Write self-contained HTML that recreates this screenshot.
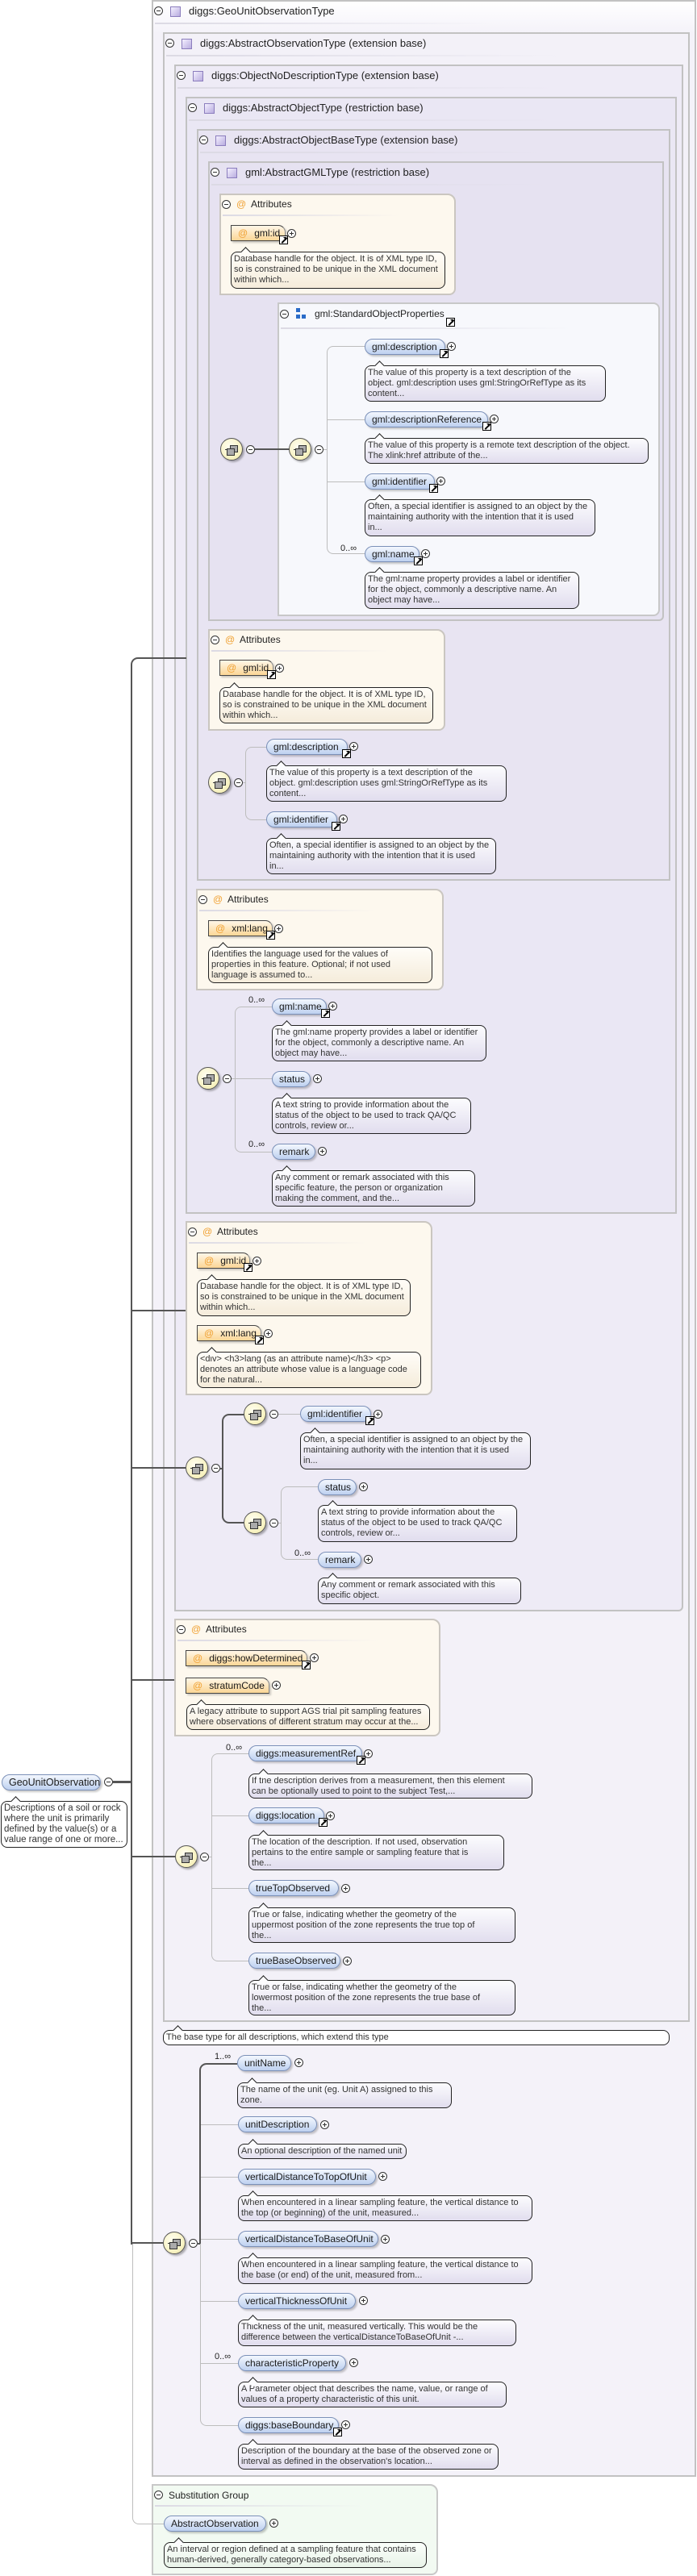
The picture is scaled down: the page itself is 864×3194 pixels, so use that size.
<!DOCTYPE html>
<html><head><meta charset="utf-8">
<style>
body{margin:0;width:864px;height:3194px;position:relative;background:#fff;font-family:"Liberation Sans",sans-serif;overflow:hidden;color:#222}
div,span{position:absolute;box-sizing:border-box}
.bx{border:2px solid #c2c2c2}
.t{font-size:13px;white-space:nowrap;line-height:16px}
.mi,.pl{width:11px;height:11px;border:1px solid #333;border-radius:50%;background:#fff}
.mi::after,.pl::after{content:'';position:absolute;left:2px;top:4px;width:5px;height:1px;background:#333}
.pl::before{content:'';position:absolute;left:4px;top:2px;width:1px;height:5px;background:#333}
.ic{width:13px;height:13px;border:1px solid #8b7dbd;background:linear-gradient(135deg,#f4f0ff,#b9acdf)}
.hl{height:2px;background:linear-gradient(90deg,#dcdae4,rgba(220,218,228,0))}
.at{font-size:12px;color:#f0a030;white-space:nowrap;line-height:14px}
.ab{border:2px solid #cac6c0;background:#fdf8ee;border-radius:0 10px 8px 0}
.p{height:20px;border:1px solid #7b90b8;border-radius:10px;background:linear-gradient(#f3f7fe,#bed1f0);box-shadow:2px 2px 2px rgba(0,0,0,.22);font-size:12px;line-height:18px;padding-left:8px;white-space:nowrap;color:#1a1a1a}
.a{height:20px;border:1px solid #444;border-right-color:#888;border-radius:0 9px 0 0;background:linear-gradient(#fff7e8,#fbd696);box-shadow:2px 2px 2px rgba(0,0,0,.2);font-size:12px;line-height:18px;padding-left:8px;white-space:nowrap;color:#1a1a1a}
.a b{font-weight:normal;color:#f0a030;margin-right:8px}
.n{border:1px solid #222;border-radius:8px;background:linear-gradient(#fcfcfe,#e1ddee);font-size:11px;line-height:13px;padding:2px 3px;white-space:nowrap;color:#333}
.n::before{content:'';position:absolute;left:13px;top:-5px;width:8px;height:8px;transform:rotate(45deg);border-left:1px solid #222;border-top:1px solid #222;background:#fcfcfe}
.c{background:linear-gradient(#fffdf8,#f5ecdb)}
.c::before{background:#fffdf8}
.w{background:#fff}
.g{background:linear-gradient(#fbfffb,#e8f3e8)}
.lk{width:11px;height:11px;border:1px solid #000;background:#fff;overflow:hidden}
.lk::after{content:'';position:absolute;left:1px;top:4px;width:9px;height:2px;background:#000;transform:rotate(-45deg)}
.lk::before{content:'';position:absolute;right:1px;top:1px;width:0;height:0;border-top:4px solid #000;border-left:4px solid transparent}
.s{width:28px;height:28px;border-radius:50%;border:1px solid #555;background:radial-gradient(circle at 40% 35%,#fffef0,#f3eba8);box-shadow:2px 2px 2px rgba(0,0,0,.3)}
.s i{position:absolute;width:8px;height:7px;border:1px solid #333;background:#aaa}
.s i.a1{left:11px;top:8px}.s i.a2{left:7px;top:12px}
.s i.l{width:16px;height:1px;border:0;background:#333;left:5px;top:13px}
.dk{background:#555}
.lt{background:#bdbdbd}
.q{font-size:11px;white-space:nowrap;line-height:12px}
</style></head><body>

<div class="bx" style="left:188px;top:0;width:675px;height:3071px;background:linear-gradient(#fff,#f4f2f9 40px)"></div>
<div class="bx" style="left:202px;top:40px;width:653px;height:2467px;background:#f3f1f8"></div>
<div class="bx" style="left:216px;top:80px;width:631px;height:1918px;background:#eeebf6;border-radius:0 0 6px 0"></div>
<div class="bx" style="left:230px;top:120px;width:609px;height:1385px;background:#eae7f4"></div>
<div class="bx" style="left:244px;top:160px;width:587px;height:932px;background:#e8e4f2"></div>
<div class="bx" style="left:258px;top:200px;width:565px;height:570px;background:#e6e2f1;border-radius:0 0 6px 0"></div>

<div class="mi" style="left:191px;top:8px"></div><div class="ic" style="left:211px;top:8px"></div><div class="t" style="left:234px;top:6px">diggs:GeoUnitObservationType</div><div class="hl" style="left:192px;top:28px;width:420px"></div>
<div class="mi" style="left:205px;top:48px"></div><div class="ic" style="left:225px;top:48px"></div><div class="t" style="left:248px;top:46px">diggs:AbstractObservationType (extension base)</div><div class="hl" style="left:206px;top:68px;width:490px"></div>
<div class="mi" style="left:219px;top:88px"></div><div class="ic" style="left:239px;top:88px"></div><div class="t" style="left:262px;top:86px">diggs:ObjectNoDescriptionType (extension base)</div><div class="hl" style="left:220px;top:108px;width:470px"></div>
<div class="mi" style="left:233px;top:128px"></div><div class="ic" style="left:253px;top:128px"></div><div class="t" style="left:276px;top:126px">diggs:AbstractObjectType (restriction base)</div><div class="hl" style="left:234px;top:148px;width:455px"></div>
<div class="mi" style="left:247px;top:168px"></div><div class="ic" style="left:267px;top:168px"></div><div class="t" style="left:290px;top:166px">diggs:AbstractObjectBaseType (extension base)</div><div class="hl" style="left:248px;top:188px;width:435px"></div>
<div class="mi" style="left:261px;top:208px"></div><div class="ic" style="left:281px;top:208px"></div><div class="t" style="left:304px;top:206px">gml:AbstractGMLType (restriction base)</div><div class="hl" style="left:262px;top:228px;width:420px"></div>

<div class="ab" style="left:272px;top:240px;width:293px;height:126px"></div>
<div class="mi" style="left:275px;top:248px"></div><div class="at" style="left:293px;top:246px">@</div><div class="t" style="left:311px;top:245px;font-size:12px">Attributes</div><div class="hl" style="left:276px;top:266px;width:220px"></div>
<div class="a" style="left:286px;top:279px;width:68px"><b>@</b>gml:id</div><div class="lk" style="left:346px;top:292px"></div><div class="pl" style="left:356px;top:284px"></div>
<div class="n c" style="left:286px;top:312px;width:266px;height:46px">Database handle for the object. It is of XML type ID,<br>so is constrained to be unique in the XML document<br>within which...</div>

<div style="left:344px;top:375px;width:474px;height:389px;border:2px solid #c8c8c8;border-radius:0 8px 8px 0;background:#f7f8fc"></div>
<div class="mi" style="left:347px;top:384px"></div>
<div style="left:367px;top:382px;width:5px;height:5px;background:#2a6bc8"></div><div style="left:367px;top:390px;width:5px;height:5px;background:#2a6bc8"></div><div style="left:374px;top:390px;width:5px;height:5px;background:#2a6bc8"></div>
<div class="t" style="left:390px;top:381px;font-size:12px">gml:StandardObjectProperties</div><div class="lk" style="left:553px;top:394px"></div>
<div class="hl" style="left:348px;top:406px;width:360px"></div>

<div class="s" style="left:273px;top:543px"><i class="l"></i><i class="a1"></i><i class="a2"></i></div><div class="mi" style="left:305px;top:552px"></div>
<div class="dk" style="left:316px;top:556px;width:43px;height:2px"></div>
<div class="s" style="left:358px;top:543px"><i class="l"></i><i class="a1"></i><i class="a2"></i></div><div class="mi" style="left:390px;top:552px"></div>
<div style="left:405px;top:429px;width:47px;height:258px;border:1px solid #bdbdbd;border-right:0;border-radius:8px 0 0 8px"></div>
<div class="lt" style="left:401px;top:557px;width:4px;height:1px"></div>
<div class="lt" style="left:405px;top:520px;width:47px;height:1px"></div>
<div class="lt" style="left:405px;top:597px;width:47px;height:1px"></div>

<div class="p" style="left:452px;top:420px;width:100px">gml:description</div><div class="lk" style="left:545px;top:433px"></div><div class="pl" style="left:554px;top:424px"></div>
<div class="n" style="left:452px;top:453px;width:299px;height:45px">The value of this property is a text description of the<br>object. gml:description uses gml:StringOrRefType as its<br>content...</div>
<div class="p" style="left:452px;top:510px;width:153px">gml:descriptionReference</div><div class="lk" style="left:598px;top:523px"></div><div class="pl" style="left:607px;top:514px"></div>
<div class="n" style="left:452px;top:543px;width:352px;height:32px">The value of this property is a remote text description of the object.<br>The xlink:href attribute of the...</div>
<div class="p" style="left:452px;top:587px;width:87px">gml:identifier</div><div class="lk" style="left:532px;top:600px"></div><div class="pl" style="left:541px;top:591px"></div>
<div class="n" style="left:452px;top:619px;width:286px;height:46px">Often, a special identifier is assigned to an object by the<br>maintaining authority with the intention that it is used<br>in...</div>
<div class="q" style="left:422px;top:674px">0..∞</div>
<div class="p" style="left:452px;top:677px;width:68px">gml:name</div><div class="lk" style="left:513px;top:690px"></div><div class="pl" style="left:522px;top:681px"></div>
<div class="n" style="left:452px;top:709px;width:266px;height:46px">The gml:name property provides a label or identifier<br>for the object, commonly a descriptive name. An<br>object may have...</div>

<div class="ab" style="left:258px;top:780px;width:294px;height:126px"></div>
<div class="mi" style="left:261px;top:788px"></div><div class="at" style="left:279px;top:786px">@</div><div class="t" style="left:297px;top:785px;font-size:12px">Attributes</div><div class="hl" style="left:262px;top:806px;width:220px"></div>
<div class="a" style="left:272px;top:818px;width:67px"><b>@</b>gml:id</div><div class="lk" style="left:331px;top:831px"></div><div class="pl" style="left:341px;top:823px"></div>
<div class="n c" style="left:272px;top:852px;width:265px;height:45px">Database handle for the object. It is of XML type ID,<br>so is constrained to be unique in the XML document<br>within which...</div>

<div class="s" style="left:258px;top:956px"><i class="l"></i><i class="a1"></i><i class="a2"></i></div><div class="mi" style="left:290px;top:965px"></div>
<div style="left:304px;top:926px;width:26px;height:91px;border:1px solid #bdbdbd;border-right:0;border-radius:8px 0 0 8px"></div>
<div class="lt" style="left:301px;top:970px;width:3px;height:1px"></div>
<div class="p" style="left:330px;top:916px;width:101px">gml:description</div><div class="lk" style="left:424px;top:929px"></div><div class="pl" style="left:433px;top:920px"></div>
<div class="n" style="left:330px;top:949px;width:298px;height:45px">The value of this property is a text description of the<br>object. gml:description uses gml:StringOrRefType as its<br>content...</div>
<div class="p" style="left:330px;top:1006px;width:88px">gml:identifier</div><div class="lk" style="left:411px;top:1019px"></div><div class="pl" style="left:420px;top:1010px"></div>
<div class="n" style="left:330px;top:1039px;width:285px;height:45px">Often, a special identifier is assigned to an object by the<br>maintaining authority with the intention that it is used<br>in...</div>

<div class="ab" style="left:243px;top:1102px;width:307px;height:126px"></div>
<div class="mi" style="left:246px;top:1110px"></div><div class="at" style="left:264px;top:1108px">@</div><div class="t" style="left:282px;top:1107px;font-size:12px">Attributes</div><div class="hl" style="left:247px;top:1128px;width:220px"></div>
<div class="a" style="left:258px;top:1141px;width:80px"><b>@</b>xml:lang</div><div class="lk" style="left:330px;top:1154px"></div><div class="pl" style="left:340px;top:1146px"></div>
<div class="n c" style="left:258px;top:1174px;width:278px;height:45px">Identifies the language used for the values of<br>properties in this feature. Optional; if not used<br>language is assumed to...</div>

<div class="s" style="left:244px;top:1323px"><i class="l"></i><i class="a1"></i><i class="a2"></i></div><div class="mi" style="left:276px;top:1332px"></div>
<div style="left:291px;top:1248px;width:46px;height:181px;border:1px solid #bdbdbd;border-right:0;border-radius:8px 0 0 8px"></div>
<div class="lt" style="left:287px;top:1337px;width:50px;height:1px"></div>
<div class="q" style="left:308px;top:1234px">0..∞</div>
<div class="p" style="left:337px;top:1238px;width:68px">gml:name</div><div class="lk" style="left:398px;top:1251px"></div><div class="pl" style="left:407px;top:1242px"></div>
<div class="n" style="left:337px;top:1271px;width:266px;height:45px">The gml:name property provides a label or identifier<br>for the object, commonly a descriptive name. An<br>object may have...</div>
<div class="p" style="left:337px;top:1328px;width:48px">status</div><div class="pl" style="left:388px;top:1332px"></div>
<div class="n" style="left:337px;top:1361px;width:247px;height:45px">A text string to provide information about the<br>status of the object to be used to track QA/QC<br>controls, review or...</div>
<div class="q" style="left:308px;top:1413px">0..∞</div>
<div class="p" style="left:337px;top:1418px;width:54px">remark</div><div class="pl" style="left:394px;top:1422px"></div>
<div class="n" style="left:337px;top:1451px;width:252px;height:45px">Any comment or remark associated with this<br>specific feature, the person or organization<br>making the comment, and the...</div>

<div class="ab" style="left:230px;top:1514px;width:306px;height:216px"></div>
<div class="mi" style="left:233px;top:1522px"></div><div class="at" style="left:251px;top:1520px">@</div><div class="t" style="left:269px;top:1519px;font-size:12px">Attributes</div><div class="hl" style="left:234px;top:1540px;width:220px"></div>
<div class="a" style="left:244px;top:1553px;width:66px"><b>@</b>gml:id</div><div class="lk" style="left:302px;top:1566px"></div><div class="pl" style="left:313px;top:1558px"></div>
<div class="n c" style="left:244px;top:1586px;width:265px;height:46px">Database handle for the object. It is of XML type ID,<br>so is constrained to be unique in the XML document<br>within which...</div>
<div class="a" style="left:244px;top:1643px;width:80px"><b>@</b>xml:lang</div><div class="lk" style="left:316px;top:1656px"></div><div class="pl" style="left:327px;top:1648px"></div>
<div class="n c" style="left:244px;top:1676px;width:278px;height:45px">&lt;div&gt; &lt;h3&gt;lang (as an attribute name)&lt;/h3&gt; &lt;p&gt;<br>denotes an attribute whose value is a language code<br>for the natural...</div>

<div class="s" style="left:230px;top:1806px"><i class="l"></i><i class="a1"></i><i class="a2"></i></div><div class="mi" style="left:262px;top:1815px"></div>
<div style="left:275px;top:1753px;width:28px;height:136px;border:2px solid #555;border-right:0;border-radius:9px 0 0 9px"></div>
<div class="dk" style="left:272px;top:1820px;width:4px;height:2px"></div>
<div class="s" style="left:302px;top:1739px"><i class="l"></i><i class="a1"></i><i class="a2"></i></div><div class="mi" style="left:334px;top:1748px"></div>
<div class="lt" style="left:345px;top:1753px;width:27px;height:1px"></div>
<div class="s" style="left:302px;top:1874px"><i class="l"></i><i class="a1"></i><i class="a2"></i></div><div class="mi" style="left:334px;top:1883px"></div>
<div style="left:348px;top:1843px;width:46px;height:91px;border:1px solid #bdbdbd;border-right:0;border-radius:8px 0 0 8px"></div>
<div class="lt" style="left:345px;top:1888px;width:3px;height:1px"></div>
<div class="p" style="left:372px;top:1743px;width:88px">gml:identifier</div><div class="lk" style="left:453px;top:1756px"></div><div class="pl" style="left:463px;top:1748px"></div>
<div class="n" style="left:372px;top:1776px;width:286px;height:46px">Often, a special identifier is assigned to an object by the<br>maintaining authority with the intention that it is used<br>in...</div>
<div class="p" style="left:394px;top:1834px;width:48px">status</div><div class="pl" style="left:445px;top:1838px"></div>
<div class="n" style="left:394px;top:1866px;width:247px;height:46px">A text string to provide information about the<br>status of the object to be used to track QA/QC<br>controls, review or...</div>
<div class="q" style="left:365px;top:1920px">0..∞</div>
<div class="p" style="left:394px;top:1924px;width:54px">remark</div><div class="pl" style="left:451px;top:1928px"></div>
<div class="n" style="left:394px;top:1956px;width:252px;height:33px">Any comment or remark associated with this<br>specific object.</div>

<div class="ab" style="left:216px;top:2007px;width:330px;height:146px"></div>
<div class="mi" style="left:219px;top:2015px"></div><div class="at" style="left:237px;top:2013px">@</div><div class="t" style="left:255px;top:2012px;font-size:12px">Attributes</div><div class="hl" style="left:220px;top:2033px;width:250px"></div>
<div class="a" style="left:230px;top:2046px;width:151px"><b>@</b>diggs:howDetermined</div><div class="lk" style="left:374px;top:2059px"></div><div class="pl" style="left:384px;top:2050px"></div>
<div class="a" style="left:230px;top:2080px;width:104px"><b>@</b>stratumCode</div><div class="pl" style="left:337px;top:2084px"></div>
<div class="n c" style="left:231px;top:2113px;width:302px;height:32px">A legacy attribute to support AGS trial pit sampling features<br>where observations of different stratum may occur at the...</div>

<div class="s" style="left:217px;top:2288px"><i class="l"></i><i class="a1"></i><i class="a2"></i></div><div class="mi" style="left:248px;top:2297px"></div>
<div style="left:262px;top:2174px;width:46px;height:258px;border:1px solid #bdbdbd;border-right:0;border-radius:8px 0 0 8px"></div>
<div class="lt" style="left:259px;top:2302px;width:3px;height:1px"></div>
<div class="lt" style="left:262px;top:2251px;width:46px;height:1px"></div>
<div class="lt" style="left:262px;top:2341px;width:46px;height:1px"></div>
<div class="q" style="left:280px;top:2161px">0..∞</div>
<div class="p" style="left:308px;top:2164px;width:141px">diggs:measurementRef</div><div class="lk" style="left:442px;top:2177px"></div><div class="pl" style="left:451px;top:2169px"></div>
<div class="n" style="left:308px;top:2199px;width:352px;height:31px">If the description derives from a measurement, then this element<br>can be optionally used to point to the subject Test,...</div>
<div class="p" style="left:308px;top:2241px;width:94px">diggs:location</div><div class="lk" style="left:395px;top:2254px"></div><div class="pl" style="left:404px;top:2246px"></div>
<div class="n" style="left:308px;top:2275px;width:317px;height:44px">The location of the description. If not used, observation<br>pertains to the entire sample or sampling feature that is<br>the...</div>
<div class="p" style="left:308px;top:2331px;width:112px">trueTopObserved</div><div class="pl" style="left:423px;top:2336px"></div>
<div class="n" style="left:308px;top:2365px;width:331px;height:44px">True or false, indicating whether the geometry of the<br>uppermost position of the zone represents the true top of<br>the...</div>
<div class="p" style="left:308px;top:2421px;width:114px">trueBaseObserved</div><div class="pl" style="left:425px;top:2426px"></div>
<div class="n" style="left:308px;top:2455px;width:331px;height:44px">True or false, indicating whether the geometry of the<br>lowermost position of the zone represents the true base of<br>the...</div>

<div class="n w" style="left:202px;top:2517px;width:628px;height:19px;padding-top:2px">The base type for all descriptions, which extend this type</div>

<div class="s" style="left:202px;top:2767px"><i class="l"></i><i class="a1"></i><i class="a2"></i></div><div class="mi" style="left:234px;top:2776px"></div>
<div style="left:247px;top:2558px;width:47px;height:224px;border-left:2px solid #555;border-top:2px solid #555;border-radius:9px 0 0 0"></div>
<div class="dk" style="left:244px;top:2781px;width:4px;height:2px"></div>
<div style="left:248px;top:2782px;width:47px;height:226px;border-left:1px solid #bdbdbd;border-bottom:1px solid #bdbdbd;border-radius:0 0 0 8px"></div>
<div class="lt" style="left:249px;top:2634px;width:46px;height:1px"></div>
<div class="lt" style="left:249px;top:2699px;width:46px;height:1px"></div>
<div class="lt" style="left:249px;top:2776px;width:46px;height:1px"></div>
<div class="lt" style="left:249px;top:2853px;width:46px;height:1px"></div>
<div class="lt" style="left:249px;top:2930px;width:46px;height:1px"></div>

<div class="q" style="left:266px;top:2544px">1..∞</div>
<div class="p" style="left:294px;top:2548px;width:67px">unitName</div><div class="pl" style="left:365px;top:2552px"></div>
<div class="n" style="left:294px;top:2582px;width:266px;height:32px">The name of the unit (eg. Unit A) assigned to this<br>zone.</div>
<div class="p" style="left:295px;top:2624px;width:98px">unitDescription</div><div class="pl" style="left:397px;top:2629px"></div>
<div class="n" style="left:295px;top:2658px;width:209px;height:19px">An optional description of the named unit</div>
<div class="p" style="left:295px;top:2689px;width:171px">verticalDistanceToTopOfUnit</div><div class="pl" style="left:469px;top:2693px"></div>
<div class="n" style="left:295px;top:2722px;width:365px;height:32px">When encountered in a linear sampling feature, the vertical distance to<br>the top (or beginning) of the unit, measured...</div>
<div class="p" style="left:295px;top:2766px;width:174px">verticalDistanceToBaseOfUnit</div><div class="pl" style="left:472px;top:2771px"></div>
<div class="n" style="left:295px;top:2799px;width:365px;height:33px">When encountered in a linear sampling feature, the vertical distance to<br>the base (or end) of the unit, measured from...</div>
<div class="p" style="left:295px;top:2843px;width:146px">verticalThicknessOfUnit</div><div class="pl" style="left:445px;top:2847px"></div>
<div class="n" style="left:295px;top:2876px;width:345px;height:33px">Thickness of the unit, measured vertically. This would be the<br>difference between the verticalDistanceToBaseOfUnit -...</div>
<div class="q" style="left:266px;top:2916px">0..∞</div>
<div class="p" style="left:295px;top:2920px;width:134px">characteristicProperty</div><div class="pl" style="left:433px;top:2924px"></div>
<div class="n" style="left:295px;top:2953px;width:333px;height:32px">A Parameter object that describes the name, value, or range of<br>values of a property characteristic of this unit.</div>
<div class="p" style="left:295px;top:2997px;width:125px">diggs:baseBoundary</div><div class="lk" style="left:413px;top:3010px"></div><div class="pl" style="left:423px;top:3001px"></div>
<div class="n" style="left:295px;top:3030px;width:323px;height:32px">Description of the boundary at the base of the observed zone or<br>interval as defined in the observation's location...</div>

<div style="left:188px;top:3080px;width:355px;height:113px;border:2px solid #c8c8c8;border-radius:0 10px 8px 0;background:#f2faf2"></div>
<div class="mi" style="left:191px;top:3088px"></div><div class="t" style="left:209px;top:3086px;font-size:12px">Substitution Group</div><div class="hl" style="left:192px;top:3106px;width:260px"></div>
<div style="left:164px;top:2782px;width:40px;height:348px;border-left:1px solid #bdbdbd;border-bottom:1px solid #bdbdbd;border-radius:0 0 0 8px"></div>
<div class="p" style="left:203px;top:3119px;width:127px">AbstractObservation</div><div class="pl" style="left:334px;top:3123px"></div>
<div class="n g" style="left:203px;top:3152px;width:326px;height:32px">An interval or region defined at a sampling feature that contains<br>human-derived, generally category-based observations...</div>

<div style="left:162px;top:815px;width:69px;height:20px;border-left:2px solid #555;border-top:2px solid #555;border-radius:9px 0 0 0"></div>
<div class="dk" style="left:162px;top:834px;width:2px;height:1949px"></div>
<div class="dk" style="left:162px;top:1624px;width:68px;height:2px"></div>
<div class="dk" style="left:162px;top:1819px;width:68px;height:2px"></div>
<div class="dk" style="left:162px;top:2082px;width:54px;height:2px"></div>
<div class="dk" style="left:140px;top:2208px;width:23px;height:3px"></div>
<div class="dk" style="left:162px;top:2301px;width:55px;height:2px"></div>
<div class="dk" style="left:162px;top:2780px;width:40px;height:2px"></div>

<div class="p" style="left:2px;top:2200px;width:123px;font-size:12.5px">GeoUnitObservation</div><div class="mi" style="left:129px;top:2204px"></div>
<div class="n w" style="left:1px;top:2233px;width:157px;height:58px;font-size:11.5px">Descriptions of a soil or rock<br>where the unit is primarily<br>defined by the value(s) or a<br>value range of one or more...</div>

</body></html>
